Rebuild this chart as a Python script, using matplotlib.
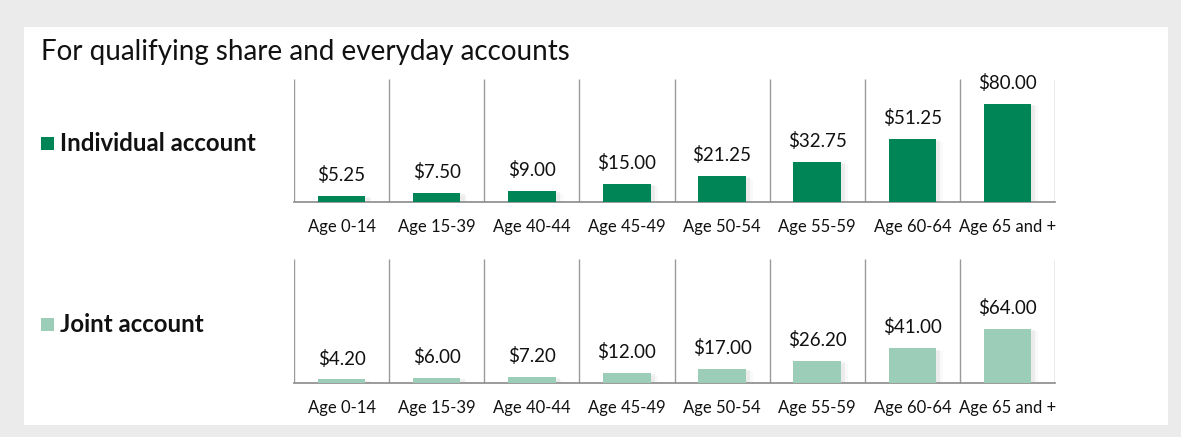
import matplotlib
matplotlib.use("Agg")
import matplotlib.pyplot as plt
import matplotlib.patheffects as pe
from matplotlib.patches import Rectangle

plt.rcParams['font.family'] = ['Lato', 'DejaVu Sans']

# data
ages = ['Age 0-14', 'Age 15-39', 'Age 40-44', 'Age 45-49',
        'Age 50-54', 'Age 55-59', 'Age 60-64', 'Age 65 and +']
individual = [5.25, 7.50, 9.00, 15.00, 21.25, 32.75, 51.25, 80.00]
joint = [4.20, 6.00, 7.20, 12.00, 17.00, 26.20, 41.00, 64.00]

dark_green = '#008656'
light_green = '#9ccdb9'

W, H = 1181, 437
fig = plt.figure(figsize=(W / 100, H / 100), dpi=100, facecolor='#ebebeb')

# white panel
fig.patches.append(Rectangle((24 / W, 1 - 425 / H), (1168 - 24) / W, (425 - 27) / H,
                             transform=fig.transFigure, facecolor='white',
                             edgecolor='none', zorder=-5))

fig.text(41 / W, 1 - 52 / H, 'For qualifying share and everyday accounts',
         fontsize=20, color='#111111', va='center', ha='left')


def draw_panel(top, bottom, values, ymax, color, label):
    ax = fig.add_axes([294 / W, 1 - bottom / H, (1055 - 294) / W, (bottom - top) / H])
    ax.set_facecolor('none')
    x = range(len(values))
    bars = ax.bar(x, values, width=0.5, color=color, zorder=3)
    for b in bars:
        b.set_path_effects([pe.SimplePatchShadow(offset=(3, -1), shadow_rgbFace='#999999', alpha=0.12),
                            pe.SimplePatchShadow(offset=(5, -2), shadow_rgbFace='#999999', alpha=0.06),
                            pe.Normal()])
    for i, v in enumerate(values):
        ax.annotate(f'${v:.2f}', (i, v), xytext=(0, 15), textcoords='offset points',
                    ha='center', va='center', fontsize=13.5, color='#111111')
    ax.vlines([i - 0.5 for i in range(len(values) + 1)], 0, ymax, color='#9a9a9a', lw=1, zorder=2)
    ax.set_xlim(-0.5, len(values) - 0.5)
    ax.set_ylim(0, ymax)
    for s in ['top', 'right', 'left']:
        ax.spines[s].set_visible(False)
    ax.spines['bottom'].set_color('#8a8a8a')
    ax.spines['bottom'].set_linewidth(1.2)
    ax.set_yticks([])
    ax.set_xticks(list(x))
    ax.set_xticklabels(ages, fontsize=12, color='#111111')
    ax.tick_params(axis='x', length=0, pad=12)

    # legend-like label on the left
    yc = (top + bottom) / 2 + 3
    fig.patches.append(Rectangle((41 / W, 1 - (yc + 6.5) / H), 13 / W, 13 / H,
                                 transform=fig.transFigure, facecolor=color, edgecolor='none'))
    fig.text(60 / W, 1 - yc / H, label, fontsize=17.3, fontweight='bold',
             color='#111111', va='center', ha='left')
    return ax


draw_panel(79, 202, individual, 100, dark_green, 'Individual account')
draw_panel(259, 383, joint, 146, light_green, 'Joint account')

fig.savefig('out.png', dpi=100, facecolor=fig.get_facecolor())
